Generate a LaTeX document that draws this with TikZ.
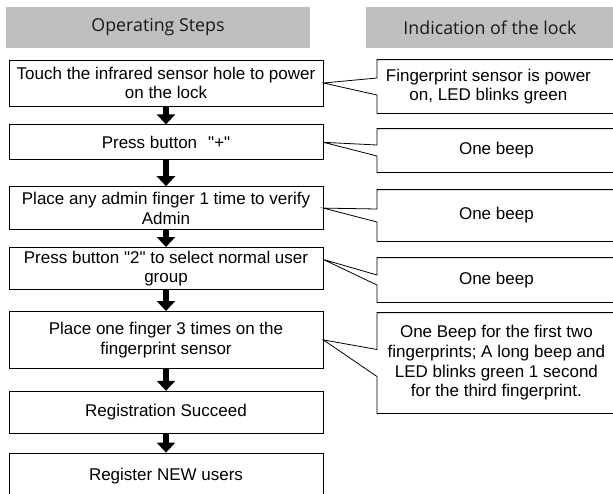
\documentclass[tikz,border=0pt]{standalone}
\usepackage{fontspec}
\setmainfont{Liberation Sans}
\newfontfamily\headfont{Open Sans}
\usepackage{tikz}
\usetikzlibrary{arrows.meta, positioning}

\begin{document}
\begin{tikzpicture}[x=1pt, y=-1pt, thick,
        step node/.style={rectangle, draw, minimum width=314pt, align=center,
            font=\fontsize{17}{19.7}\selectfont},
        lock node/.style={rectangle, anchor=west, minimum width=238pt, align=center,
            font=\fontsize{17}{19.7}\selectfont},
        head node/.style={rectangle, fill=gray!50, text=black!90, minimum height=41pt,
            font=\headfont\fontsize{17.8}{20}\selectfont},
        step arrow/.style={line width=5.5pt, -{Triangle[width=18pt,length=10pt]}}]
        \useasboundingbox (0,0) rectangle (613,493);
        \clip (0,0) rectangle (613,493);

        \node[head node, minimum width=304pt] (hsteps) at (158,27.5) {Operating Steps};
        \node[head node, minimum width=248pt] (hlock) at (490,27.5) {Indication of the lock};

        \node[step node, minimum height=46pt] (s1) at (166,83) {Touch the infrared sensor hole to power\\on the lock};
        \node[step node, minimum height=35pt] (s2) [below=18pt of s1] {Press button\hspace{0.65em}\textquotedbl+\textquotedbl};
        \node[step node, minimum height=43pt] (s3) [below=26pt of s2] {Place any admin finger 1 time to verify\\Admin};
        \node[step node, minimum height=42pt] (s4) [below=17pt of s3] {Press button \textquotedbl2\textquotedbl{} to select normal user\\group};
        \node[step node, minimum height=57pt] (s5) [below=21pt of s4] {Place one finger 3 times on the\\fingerprint sensor};
        \node[step node, minimum height=42pt] (s6) [below=22pt of s5] {Registration Succeed};
        \node[step node, minimum height=47pt] (s7) [below=19pt of s6] {Register NEW users};

        \node[lock node, minimum height=53pt, minimum width=222pt] (r1) at (377,86.5) {Fingerprint sensor is power\\on, LED blinks green};
        \node[lock node, minimum height=43pt] (r2) at (377,150.5) {One beep};
        \node[lock node, minimum height=51pt] (r3) at (377,215.5) {One beep};
        \node[lock node, minimum height=44pt] (r4) at (377,280) {One beep};
        \node[lock node, minimum height=100pt] (r5) at (377,363) {One Beep for the first two\\fingerprints; A long beep and\\LED blinks green 1 second\\for the third fingerprint.};

        \foreach \s/\t in {s1/s2, s2/s3, s3/s4, s4/s5, s5/s6, s6/s7} {
        \draw[step arrow] (\s) -- (\t);}

        \foreach \s/\r/\w/\d in {s1/r1/8.5pt/0pt, s2/r2/5.5pt/0pt, s3/r3/6.5pt/0pt, s4/r4/5pt/9pt, s5/r5/13.5pt/0pt} {
        \draw ([xshift=260pt]\r.north west) -- (\r.north west) -- ([yshift=\w]\r.west)
            -- ([yshift=\d]\s.east) -- ([yshift=-\w]\r.west) -- (\r.south west) -- ([xshift=260pt]\r.south west);}
\end{tikzpicture}
\end{document}
